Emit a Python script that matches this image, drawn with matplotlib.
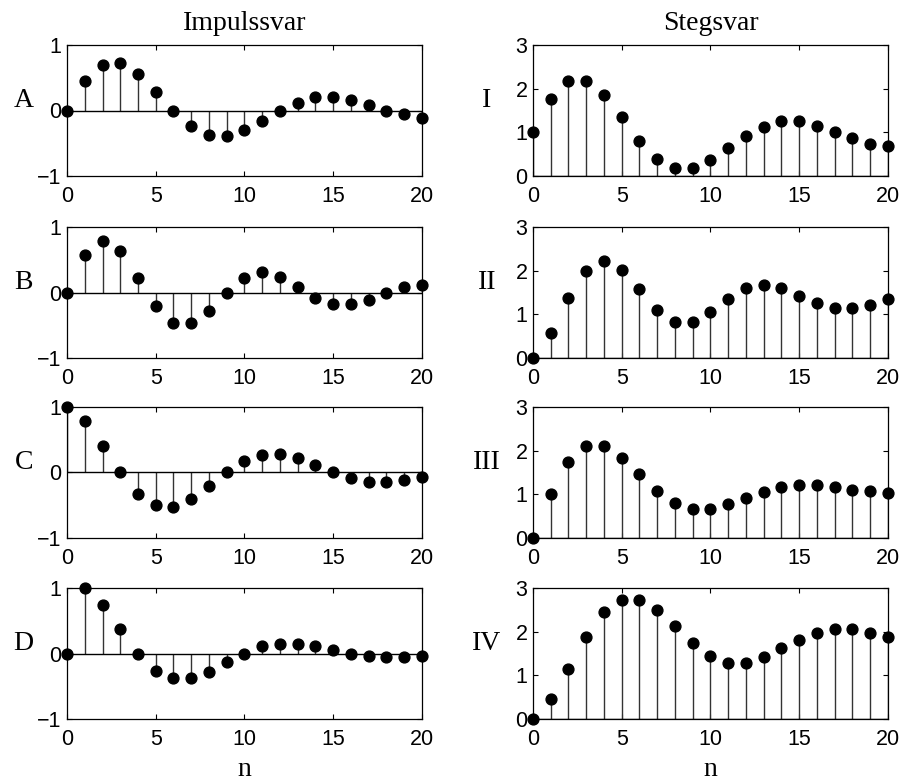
import numpy as np
import matplotlib
matplotlib.use("Agg")
import matplotlib.pyplot as plt

n = np.arange(21)

# impulse responses (left column)
imp_A = [0, 0.45, 0.70, 0.73, 0.56, 0.29, 0, -0.24, -0.37, -0.39, -0.30,
         -0.16, 0, 0.12, 0.20, 0.20, 0.16, 0.08, 0.0, -0.06, -0.11]
imp_B = [0, 0.57, 0.79, 0.63, 0.22, -0.20, -0.47, -0.47, -0.28, 0, 0.22,
         0.31, 0.24, 0.09, -0.08, -0.18, -0.18, -0.11, 0.0, 0.08, 0.12]
imp_C = [1.0, 0.78, 0.41, 0, -0.33, -0.50, -0.52, -0.40, -0.21, 0, 0.18,
         0.27, 0.28, 0.22, 0.12, 0, -0.09, -0.14, -0.15, -0.12, -0.07]
imp_D = [0, 1.0, 0.74, 0.37, 0, -0.26, -0.38, -0.37, -0.28, -0.13, 0,
         0.11, 0.15, 0.15, 0.11, 0.05, 0, -0.04, -0.05, -0.05, -0.04]

# step responses (right column)
step_I = [1.0, 1.77, 2.18, 2.18, 1.85, 1.34, 0.81, 0.40, 0.19, 0.19, 0.37,
          0.63, 0.91, 1.13, 1.25, 1.25, 1.15, 1.01, 0.86, 0.74, 0.69]
step_II = [0, 0.58, 1.38, 2.0, 2.23, 2.02, 1.57, 1.10, 0.83, 0.83, 1.05,
           1.35, 1.60, 1.68, 1.61, 1.42, 1.25, 1.14, 1.14, 1.22, 1.35]
step_III = [0, 1.0, 1.73, 2.10, 2.10, 1.84, 1.47, 1.08, 0.81, 0.67, 0.67,
            0.78, 0.91, 1.05, 1.17, 1.21, 1.21, 1.17, 1.11, 1.07, 1.02]
step_IV = [0, 0.46, 1.15, 1.88, 2.44, 2.73, 2.73, 2.50, 2.13, 1.75, 1.44,
           1.28, 1.28, 1.42, 1.62, 1.82, 1.98, 2.05, 2.05, 1.98, 1.88]

left_series = [imp_A, imp_B, imp_C, imp_D]
right_series = [step_I, step_II, step_III, step_IV]
left_names = ["A", "B", "C", "D"]
right_names = ["I", "II", "III", "IV"]

W, H = 904, 783
fig = plt.figure(figsize=(W / 100, H / 100), dpi=100)

tick_font = {"family": "Liberation Sans", "size": 15.5}
serif = "Liberation Serif"

tops = [45, 227, 407, 588]
ax_h = 131
ax_w = 355


def draw(ax, vals, ylim, yticks, name, name_x):
    ml, sl, bl = ax.stem(n, vals, linefmt="-", markerfmt="o", basefmt="k-")
    ml.set_color("black")
    ml.set_markersize(7.8)
    ml.set_clip_on(False)
    ml.set_zorder(5)
    sl.set_color("#333333")
    sl.set_linewidth(1.0)
    bl.set_linewidth(1.0)
    ax.set_xlim(0, 20)
    ax.set_ylim(*ylim)
    ax.set_xticks([0, 5, 10, 15, 20])
    ax.set_yticks(yticks)
    ax.set_yticklabels([str(t).replace("-", "\u2212") for t in yticks])
    ax.tick_params(direction="in", length=3.5, width=0.8, top=True, right=True,
                   pad=4)
    ax.tick_params(axis="x", pad=7)
    for lab in ax.get_xticklabels() + ax.get_yticklabels():
        lab.set_fontfamily(tick_font["family"])
        lab.set_fontsize(tick_font["size"])
    for sp in ax.spines.values():
        sp.set_linewidth(0.9)
    ax.text(name_x, 0.53, name, transform=ax.transAxes, ha="center",
            va="baseline", family=serif, fontsize=20)


for i in range(4):
    bottom = 1 - (tops[i] + ax_h) / H
    axl = fig.add_axes([67 / W, bottom, ax_w / W, ax_h / H])
    draw(axl, left_series[i], (-1, 1), [-1, 0, 1], left_names[i], -0.122)
    axr = fig.add_axes([533 / W, bottom, ax_w / W, ax_h / H])
    draw(axr, right_series[i], (0, 3), [0, 1, 2, 3], right_names[i], -0.13)
    if i == 0:
        axl.set_title("Impulssvar", family=serif, fontsize=20, pad=11)
        axr.set_title("Stegsvar", family=serif, fontsize=20, pad=11)
    if i == 3:
        axl.set_xlabel("n", family=serif, fontsize=20, labelpad=5)
        axr.set_xlabel("n", family=serif, fontsize=20, labelpad=5)

fig.savefig("out.png", dpi=100)
